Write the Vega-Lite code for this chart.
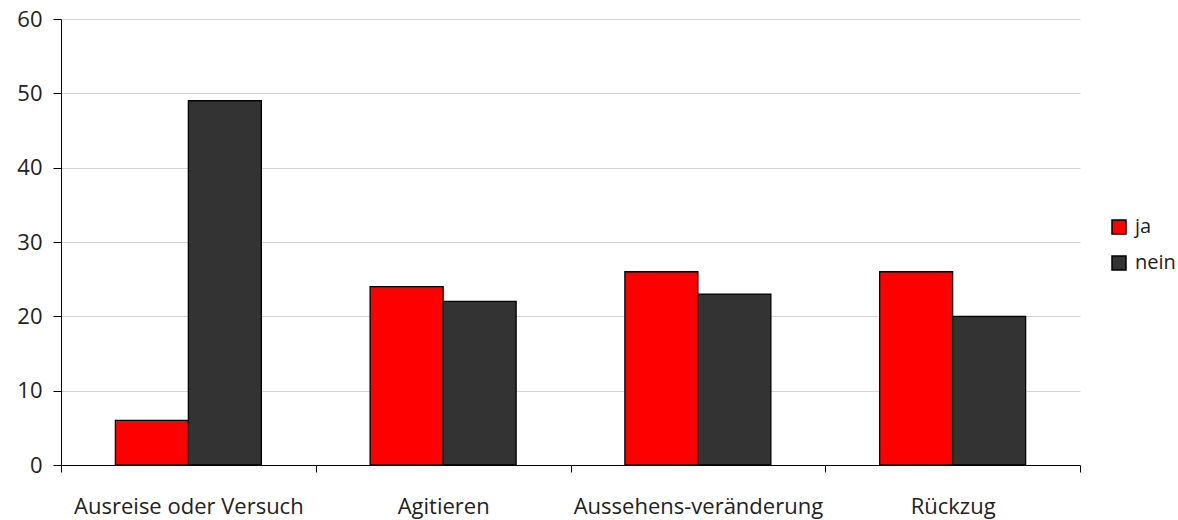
{
  "$schema": "https://vega.github.io/schema/vega-lite/v6.json",
  "autosize": {"type": "none"},
  "width": 1019,
  "height": 446,
  "padding": {"left": 61, "top": 19, "right": 98, "bottom": 55},
  "background": "white",
  "config": {
    "view": {"stroke": null},
    "font": "Open Sans"
  },
  "data": {
    "values": [
      {"cat": "Ausreise oder Versuch", "group": "ja", "value": 6},
      {"cat": "Ausreise oder Versuch", "group": "nein", "value": 49},
      {"cat": "Agitieren", "group": "ja", "value": 24},
      {"cat": "Agitieren", "group": "nein", "value": 22},
      {"cat": "Aussehens-veränderung", "group": "ja", "value": 26},
      {"cat": "Aussehens-veränderung", "group": "nein", "value": 23},
      {"cat": "Rückzug", "group": "ja", "value": 26},
      {"cat": "Rückzug", "group": "nein", "value": 20}
    ]
  },
  "mark": {"type": "bar", "stroke": "black", "strokeWidth": 1.3},
  "encoding": {
    "x": {
      "field": "cat",
      "type": "nominal",
      "sort": ["Ausreise oder Versuch", "Agitieren", "Aussehens-veränderung", "Rückzug"],
      "scale": {"paddingInner": 0, "paddingOuter": 0},
      "axis": {
        "title": null,
        "labelAngle": 0,
        "tickBand": "extent",
        "domainColor": "black",
        "tickColor": "black",
        "tickSize": 7,
        "labelPadding": 24,
        "labelFontSize": 22,
        "labelLimit": 0,
        "labelColor": "#222222",
        "labelFont": "Open Sans"
      }
    },
    "xOffset": {
      "field": "group",
      "type": "nominal",
      "scale": {"paddingInner": 0, "paddingOuter": 0.745}
    },
    "y": {
      "field": "value",
      "type": "quantitative",
      "scale": {"domain": [0, 60], "nice": false},
      "axis": {
        "title": null,
        "values": [0, 10, 20, 30, 40, 50, 60],
        "grid": true,
        "gridColor": "#d4d4d4",
        "domainColor": "black",
        "tickColor": "black",
        "tickSize": 8,
        "labelPadding": 11,
        "labelFontSize": 22,
        "labelColor": "#222222",
        "labelFont": "Open Sans"
      }
    },
    "color": {
      "field": "group",
      "type": "nominal",
      "scale": {"domain": ["ja", "nein"], "range": ["#ff0000", "#333333"]},
      "legend": {
        "title": null,
        "orient": "none",
        "legendX": 1048,
        "legendY": 198,
        "symbolType": "square",
        "symbolSize": 196,
        "symbolStrokeColor": "black",
        "symbolStrokeWidth": 1.5,
        "labelFontSize": 20,
        "labelColor": "#222222",
        "labelFont": "Open Sans",
        "rowPadding": 16,
        "labelOffset": 6
      }
    }
  }
}
